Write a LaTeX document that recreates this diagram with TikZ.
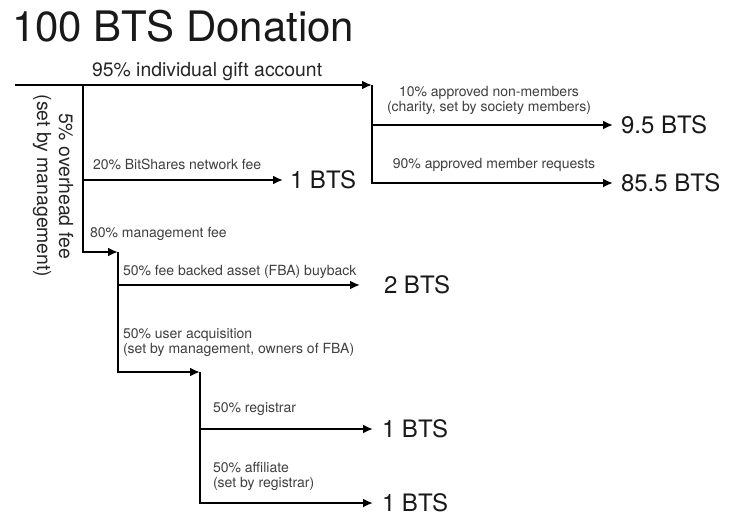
\documentclass[tikz,border=0pt]{standalone}
\usepackage{fontspec}
\setmainfont{TeX Gyre Heros}
\usetikzlibrary{arrows.meta}
\begin{document}
\begin{tikzpicture}[x=1pt,y=-1pt,
  flow/.style={line width=2pt},
  arr/.style={flow,-{Latex[length=10pt,width=9pt]}},
  lbl/.style={font=\fontsize{14}{15.5}\selectfont, text=black!75, inner sep=0pt, outer sep=0pt},
  mainlbl/.style={font=\fontsize{19.4}{22}\selectfont, text=black!85, inner sep=0pt, outer sep=0pt},
  bts/.style={font=\fontsize{24}{28}\selectfont, text=black!90, inner sep=0pt, outer sep=0pt, anchor=west},
]
\useasboundingbox[fill=white] (0,0) rectangle (755,526);

% title
\node[font=\fontsize{42}{46}\selectfont, inner sep=0pt, anchor=base west, text=black!90] (title) at (12,42) {100 BTS Donation};

% junctions
\coordinate (src) at (15,85);
\coordinate (jA) at (83,85);
\coordinate (R) at (372,85);
\coordinate (Ra) at (372,125);
\coordinate (Rb) at (372,183);
\coordinate (jB) at (83,180);
\coordinate (jC) at (83,252);
\coordinate (M) at (118,252);
\coordinate (Mf) at (118,285);
\coordinate (Mb) at (118,372);
\coordinate (U) at (200,372);
\coordinate (Ua) at (200,429);
\coordinate (Ub) at (200,503);

% results
\node[bts] (b95) at (621,125) {9.5 BTS};
\node[bts] (b855) at (621,183) {85.5 BTS};
\node[bts] (b1) at (290,180) {1 BTS};
\node[bts] (b2) at (384,285) {2 BTS};
\node[bts] (b1r) at (382,429) {1 BTS};
\node[bts] (b1a) at (382,503) {1 BTS};

% connectors
\draw[arr] (src) -- (R);
\draw[arr] (jA) -- (jC) -- (M);
\draw[arr] (M) -- (Mb) -- (U);
\draw[arr, shorten >=9pt] (U) -- (Ub) -- (Ub -| b1a.west);
\draw[arr, shorten >=9pt] (Ua) -- (Ua -| b1r.west);
\draw[arr, shorten >=24pt] (Mf) -- (Mf -| b2.west);
\draw[arr, shorten >=7pt] (jB) -- (jB -| b1.west);
\draw[arr, shorten >=8pt] (R) -- (Rb) -- (Rb -| b855.west);
\draw[arr, shorten >=8pt] (Ra) -- (Ra -| b95.west);

% labels
\node[mainlbl, anchor=base west] (lgift) at (92,77) {95\% individual gift account};
\node[mainlbl, align=center, rotate=-90] (lover) at (53,186) {5\% overhead fee\\(set by management)};
\node[lbl, anchor=base west] (lnet) at (93,170) {20\% BitShares network fee};
\node[lbl, anchor=base west] (lman) at (90,238) {80\% management fee};
\node[lbl, anchor=base west] (lfba) at (123,276) {50\% fee backed asset (FBA) buyback};
\node[lbl, anchor=south west, align=left] (luser) at (123,357) {50\% user acquisition\\(set by management, owners of FBA)};
\node[lbl, anchor=base west] (lreg) at (213,413) {50\% registrar};
\node[lbl, anchor=south west, align=left] (laff) at (213,491) {50\% affiliate\\(set by registrar)};
\node[lbl, anchor=south, align=center] (lnon) at (489,115) {10\% approved non-members\\(charity, set by society members)};
\node[lbl, anchor=base] (lmem) at (494,169) {90\% approved member requests};
\end{tikzpicture}
\end{document}
